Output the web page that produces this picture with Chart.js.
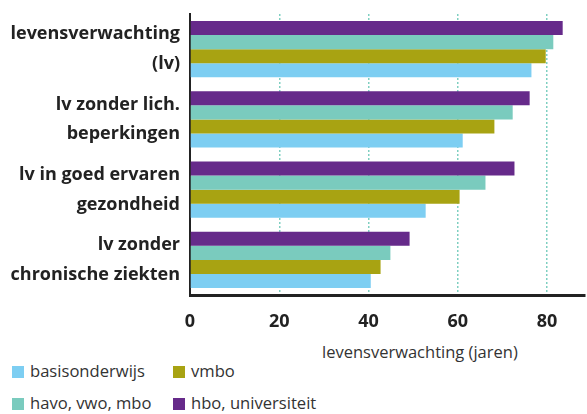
<!DOCTYPE html>
<html>
<head>
<meta charset="utf-8">
<script src="https://cdn.jsdelivr.net/npm/chart.js@4"></script>
<style>
  body { margin: 0; background: #fff; font-family: "Open Sans", sans-serif; color: #333; }
  #wrap { position: relative; width: 587px; height: 414px; }
  #chartBox { position: absolute; left: 0; top: 0; width: 587px; height: 340px; }
  #axisTitle { position: absolute; left: 322px; top: 340px; font-size: 16.5px; white-space: nowrap; }
  .leg { position: absolute; font-size: 16.6px; white-space: nowrap; line-height: 20px; }
  .leg span { display: inline-block; width: 12px; height: 12px; margin-right: 6px; vertical-align: -1px; }
</style>
</head>
<body>
<div id="wrap">
  <div id="chartBox"><canvas id="lvChart"></canvas></div>
  <div id="axisTitle">levensverwachting (jaren)</div>
  <div id="legend"></div>
</div>
<script>
const categories = [
    ["levensverwachting", "(lv)"],
    ["lv zonder lich.", "beperkingen"],
    ["lv in goed ervaren", "gezondheid"],
    ["lv zonder", "chronische ziekten"]
];
const hboValues = [83.5, 76.1, 72.7, 49.2];
const havoValues = [81.4, 72.3, 66.2, 44.9];
const vmboValues = [79.7, 68.2, 60.4, 42.7];
const basisValues = [76.5, 61.1, 52.8, 40.5];
const tickValues = [0, 20, 40, 60, 80];

const colors = {
    hbo: "#662a8a",
    havo: "#7acbbe",
    vmbo: "#a8a312",
    basis: "#7dcef2"
};

const canvas = document.getElementById("lvChart");
const ctx = canvas.getContext("2d");

new Chart(ctx, {
    type: "bar",
    data: {
        labels: categories,
        datasets: [
            { label: "hbo, universiteit", data: hboValues, backgroundColor: colors.hbo },
            { label: "havo, vwo, mbo", data: havoValues, backgroundColor: colors.havo },
            { label: "vmbo", data: vmboValues, backgroundColor: colors.vmbo },
            { label: "basisonderwijs", data: basisValues, backgroundColor: colors.basis }
        ]
    },
    options: {
        indexAxis: "y",
        responsive: true,
        maintainAspectRatio: false,
        animation: false,
        barPercentage: 1,
        categoryPercentage: 0.8,
        layout: { padding: { top: 14, right: 2, left: 0, bottom: 0 } },
        plugins: {
            legend: { display: false },
            tooltip: { enabled: false }
        },
        scales: {
            x: {
                min: 0,
                max: 88.5,
                afterBuildTicks: (scale) => {
                    scale.ticks = tickValues.map(v => ({ value: v }));
                },
                afterFit: (scale) => { scale.height = 45; },
                grid: {
                    drawTicks: false,
                    color: (c) => c.tick && c.tick.value === 0 ? "rgba(0,0,0,0)" : "#7fcfc1",
                    lineWidth: 1.5
                },
                border: { display: true, color: "#222", width: 3, dash: [2, 2] },
                ticks: {
                    padding: 16,
                    color: "#222",
                    font: { family: "Open Sans", size: 18, weight: "bold" }
                }
            },
            y: {
                afterFit: (scale) => {
                    scale.width = 190;
                    scale.paddingTop = 0;
                    scale.paddingBottom = 0;
                },
                grid: { display: false, drawTicks: false },
                border: { display: true, color: "#222", width: 2 },
                ticks: {
                    padding: 10,
                    color: "#222",
                    font: { family: "Open Sans", size: 18, weight: "bold", lineHeight: 1.65 }
                }
            }
        }
    }
});

// legend, two columns as in the original
const legendItems = [
    { text: "basisonderwijs", color: colors.basis, x: 12, y: 361 },
    { text: "vmbo", color: colors.vmbo, x: 173, y: 361 },
    { text: "havo, vwo, mbo", color: colors.havo, x: 12, y: 393 },
    { text: "hbo, universiteit", color: colors.hbo, x: 173, y: 393 }
];
const legend = document.getElementById("legend");
legendItems.forEach(item => {
    const d = document.createElement("div");
    d.className = "leg";
    d.style.left = item.x + "px";
    d.style.top = item.y + "px";
    d.innerHTML = '<span style="background:' + item.color + '"></span>' + item.text;
    legend.appendChild(d);
});
</script>
</body>
</html>
